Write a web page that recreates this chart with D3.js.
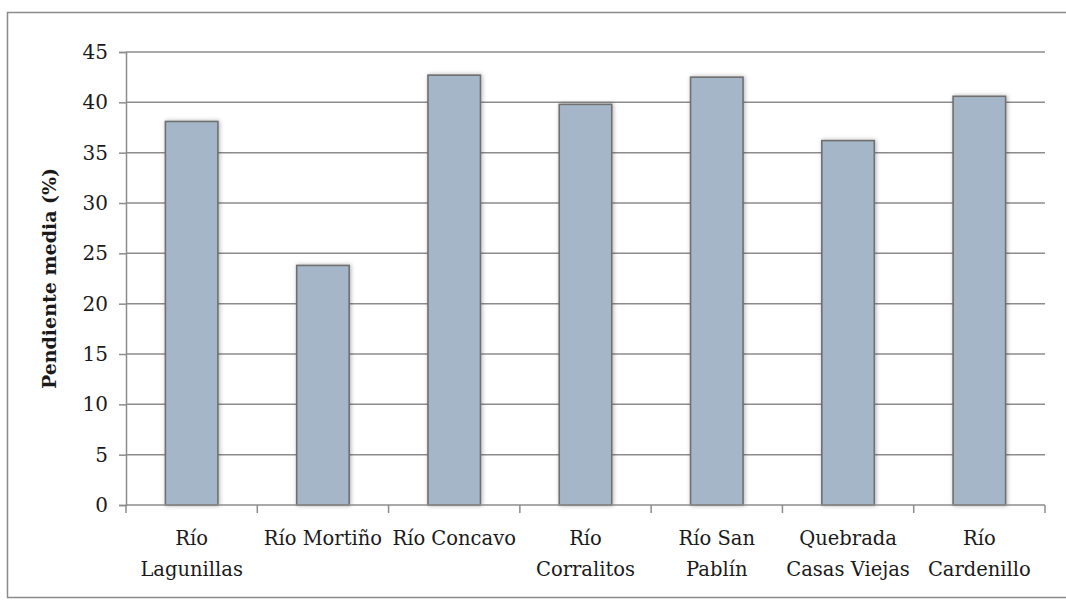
<!DOCTYPE html>
<html>
<head>
<meta charset="utf-8">
<script src="https://cdn.jsdelivr.net/npm/d3@7"></script>
<style>
  html, body { margin: 0; padding: 0; background: #fff; }
  svg { display: block; }
  svg text { font-family: "DejaVu Serif", serif; fill: #1a1a1a; }
</style>
</head>
<body>
<svg id="chart" width="1066" height="602"></svg>
<script>
// Mean slope per watershed
const categories = [
  ["Río", "Lagunillas"],
  ["Río Mortiño"],
  ["Río Concavo"],
  ["Río", "Corralitos"],
  ["Río San", "Pablín"],
  ["Quebrada", "Casas Viejas"],
  ["Río", "Cardenillo"]
];
const values = [38.1, 23.8, 42.7, 39.8, 42.5, 36.2, 40.6];
const yTicks = [0, 5, 10, 15, 20, 25, 30, 35, 40, 45];
const yTitle = "Pendiente media (%)";

const svg = d3.select("#chart");
const W = 1066, H = 602;
const margin = { left: 126, right: 21, top: 52, bottom: 97 };
const FONT = "'DejaVu Serif', serif";

// Outer frame
svg.append("rect")
  .attr("x", 7.5).attr("y", 12.5)
  .attr("width", 1070).attr("height", 585)
  .attr("fill", "#fff").attr("stroke", "#8a8a8a").attr("stroke-width", 1.5);

const names = categories.map(c => c.join(" "));
const x = d3.scaleBand()
  .domain(names)
  .range([margin.left, W - margin.right])
  .paddingInner(0.6).paddingOuter(0.3);
const y = d3.scaleLinear().domain([0, 45]).range([H - margin.bottom, margin.top]);

// Horizontal gridlines
svg.append("g").selectAll("line").data(yTicks.filter(d => d > 0)).join("line")
  .attr("x1", margin.left).attr("x2", W - margin.right)
  .attr("y1", d => y(d)).attr("y2", d => y(d))
  .attr("stroke", "#8c8c8c").attr("stroke-width", 1.5);

// Y axis
const yAxis = svg.append("g")
  .attr("transform", `translate(${margin.left},0)`)
  .call(d3.axisLeft(y).tickValues(yTicks).tickSize(7).tickPadding(11));
yAxis.attr("font-family", null).attr("font-size", null);
yAxis.select(".domain").attr("stroke", "#8c8c8c").attr("stroke-width", 1.5);
yAxis.selectAll(".tick line").attr("stroke", "#8c8c8c").attr("stroke-width", 1.5);
yAxis.selectAll(".tick text")
  .style("font-family", FONT)
  .style("font-size", "20px").attr("fill", "#1a1a1a");

// Bars with a soft shadow
const defs = svg.append("defs");
const f = defs.append("filter").attr("id", "shadow")
  .attr("x", "-20%").attr("y", "-5%").attr("width", "140%").attr("height", "110%");
f.append("feDropShadow").attr("dx", 1).attr("dy", 0).attr("stdDeviation", 2.2)
  .attr("flood-color", "#000").attr("flood-opacity", 0.3);

svg.append("g").selectAll("rect").data(values).join("rect")
  .attr("x", (d, i) => x(names[i]))
  .attr("y", d => y(d))
  .attr("width", x.bandwidth())
  .attr("height", d => y(0) - y(d))
  .attr("fill", "#a5b6c8")
  .attr("stroke", "#6f6f6f").attr("stroke-width", 1.6)
  .attr("filter", "url(#shadow)");

// X axis with ticks between categories
const boundaries = d3.range(names.length + 1).map(i => margin.left + i * (W - margin.right - margin.left) / names.length);
const xg = svg.append("g");
xg.append("line")
  .attr("x1", margin.left).attr("x2", W - margin.right)
  .attr("y1", y(0)).attr("y2", y(0))
  .attr("stroke", "#8c8c8c").attr("stroke-width", 1.5);
xg.selectAll("line.tk").data(boundaries).join("line").attr("class", "tk")
  .attr("x1", d => d).attr("x2", d => d)
  .attr("y1", y(0)).attr("y2", y(0) + 8)
  .attr("stroke", "#8c8c8c").attr("stroke-width", 1.5);

// Category labels
const lbl = xg.selectAll("text.cat").data(categories).join("text").attr("class", "cat")
  .attr("text-anchor", "middle")
  .style("font-family", FONT)
  .style("font-size", "19.5px");
lbl.each(function(lines, i) {
  const t = d3.select(this);
  const cx = x(names[i]) + x.bandwidth() / 2;
  lines.forEach((s, k) => {
    t.append("tspan").attr("x", cx).attr("y", y(0) + 40 + k * 31).text(s);
  });
});

// Y title
svg.append("text")
  .attr("transform", `translate(56, ${(y(0) + y(45)) / 2}) rotate(-90)`)
  .attr("text-anchor", "middle")
  .style("font-family", FONT)
  .style("font-size", "19px").style("font-weight", "bold")
  .text(yTitle);
</script>
</body>
</html>
